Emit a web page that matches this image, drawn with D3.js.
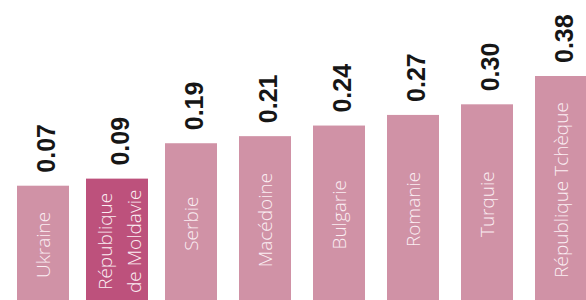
<!DOCTYPE html>
<html>
<head>
<meta charset="utf-8">
<script src="https://cdn.jsdelivr.net/npm/d3@7"></script>
<style>
body { margin: 0; background: #fff; }
svg { display: block; }
</style>
</head>
<body>
<script>
var w = 586, h = 300;

// donnees
var pays = ["Ukraine", "République|de Moldavie", "Serbie", "Macédoine", "Bulgarie", "Romanie", "Turquie", "République Tchèque"];
var valeurs = [0.07, 0.09, 0.19, 0.21, 0.24, 0.27, 0.30, 0.38];
var enValeur = "République|de Moldavie";

var svg = d3.select("body").append("svg")
	.attr("width", w)
	.attr("height", h);

var x = d3.scaleBand()
	.domain(pays)
	.range([17, 587])
	.paddingInner(22 / 74)
	.paddingOuter(0);

// l'echelle ne part pas de zero dans l'original
var y = d3.scaleLinear()
	.domain([-0.253, 0.38])
	.range([h, 76]);

var g = svg.selectAll("g.barre")
	.data(pays)
	.enter()
	.append("g")
	.attr("class", "barre");

g.append("rect")
	.attr("x", function(d) { return d == enValeur ? x(d) - 5 : x(d); })
	.attr("width", function(d) { return d == enValeur ? x.bandwidth() + 10 : x.bandwidth(); })
	.attr("y", function(d, i) { return y(valeurs[i]); })
	.attr("height", function(d, i) { return h - y(valeurs[i]); })
	.style("fill", function(d) { return d == enValeur ? "#bd517c" : "#d092a6"; });

// valeurs
g.append("text")
	.attr("transform", function(d, i) {
		return "translate(" + (x(d) + x.bandwidth() / 2 + 12) + "," + (y(valeurs[i]) - 13) + ") rotate(-90)";
	})
	.style("font-family", "'Liberation Sans', Arial, sans-serif")
	.style("font-weight", "bold")
	.style("font-size", "25px")
	.style("fill", "#161616")
	.text(function(d, i) { return valeurs[i].toFixed(2); });

// noms des pays
g.each(function(d, i) {
	var lignes = d.split("|");
	var cx = x(d) + x.bandwidth() / 2;
	var cy = (y(valeurs[i]) + h) / 2 + 2;
	var decal = lignes.length == 1 ? [6.5] : [-5, 24];
	var txt = d3.select(this).append("text")
		.attr("transform", "translate(" + cx + "," + cy + ") rotate(-90)")
		.attr("text-anchor", "middle")
		.style("font-family", "'Open Sans', sans-serif")
		.style("font-weight", "300")
		.style("font-size", "19px")
		.style("fill", "#fbeef3");
	lignes.forEach(function(l, k) {
		txt.append("tspan")
			.attr("x", 0)
			.attr("y", decal[k])
			.text(l);
	});
});
</script>
</body>
</html>
